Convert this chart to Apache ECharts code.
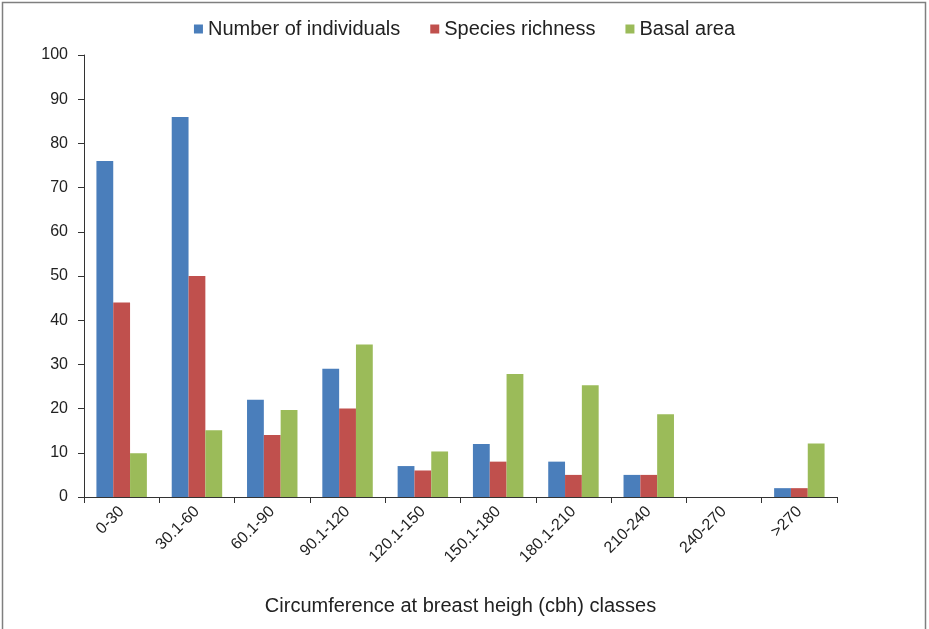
<!DOCTYPE html>
<html>
<head>
<meta charset="utf-8">
<script src="https://cdn.jsdelivr.net/npm/echarts@6/dist/echarts.min.js"></script>
<style>
  html, body { margin: 0; padding: 0; background: #fff; }
  #chart { width: 929px; height: 629px; }
</style>
</head>
<body>
<div id="chart"></div>
<script>
const classes = ['0-30', '30.1-60', '60.1-90', '90.1-120', '120.1-150', '150.1-180', '180.1-210', '210-240', '240-270', '>270']
const individuals = [76, 86, 22, 29, 7, 12, 8, 5, 0, 2]
const richness = [44, 50, 14, 20, 6, 8, 5, 5, 0, 2]
const basalArea = [9.9, 15.1, 19.7, 34.5, 10.3, 27.8, 25.3, 18.7, 0, 12.1]

const colors = ['#4a7ebb', '#c0504d', '#9bbb59']
const font = '"Liberation Sans", Arial, sans-serif'

const myChart = echarts.init(document.getElementById('chart'))
myChart.setOption({
  color: colors,
  animation: false,
  textStyle: { fontFamily: font },
  graphic: [{
    type: 'rect', left: 0, top: 0,
    shape: { x: 3.5, y: 1.5, width: 923, height: 640 },
    style: { fill: 'none', stroke: '#7f7f7f', lineWidth: 1.5 },
  }],
  legend: {
    top: 14, left: 'center',
    itemWidth: 9, itemHeight: 9, itemGap: 30,
    icon: 'rect',
    textStyle: { fontSize: 20, color: '#222', fontFamily: font },
    data: ['Number of individuals', 'Species richness', 'Basal area'],
  },
  grid: { left: 84, right: 92, top: 55, bottom: 132 },
  xAxis: {
    type: 'category',
    data: classes,
    name: 'Circumference at breast heigh (cbh) classes',
    nameLocation: 'middle',
    nameGap: 99,
    nameTextStyle: { fontSize: 20, color: '#222', fontFamily: font },
    axisLine: { lineStyle: { color: '#333', width: 1 } },
    axisTick: { show: true, length: 6, lineStyle: { color: '#333' } },
    axisLabel: { rotate: 45, fontSize: 16, color: '#222', margin: 12, interval: 0 },
  },
  yAxis: {
    type: 'value',
    min: 0, max: 100, interval: 10,
    axisLine: { show: true, lineStyle: { color: '#333', width: 1 } },
    axisTick: { show: true, length: 6, lineStyle: { color: '#333' } },
    axisLabel: { fontSize: 16, color: '#222', margin: 16 },
    splitLine: { show: false },
  },
  series: [
    { name: 'Number of individuals', type: 'bar', data: individuals, barGap: '0%', barCategoryGap: '33%' },
    { name: 'Species richness', type: 'bar', data: richness, barGap: '0%', barCategoryGap: '33%' },
    { name: 'Basal area', type: 'bar', data: basalArea, barGap: '0%', barCategoryGap: '33%' },
  ],
})
</script>
</body>
</html>
